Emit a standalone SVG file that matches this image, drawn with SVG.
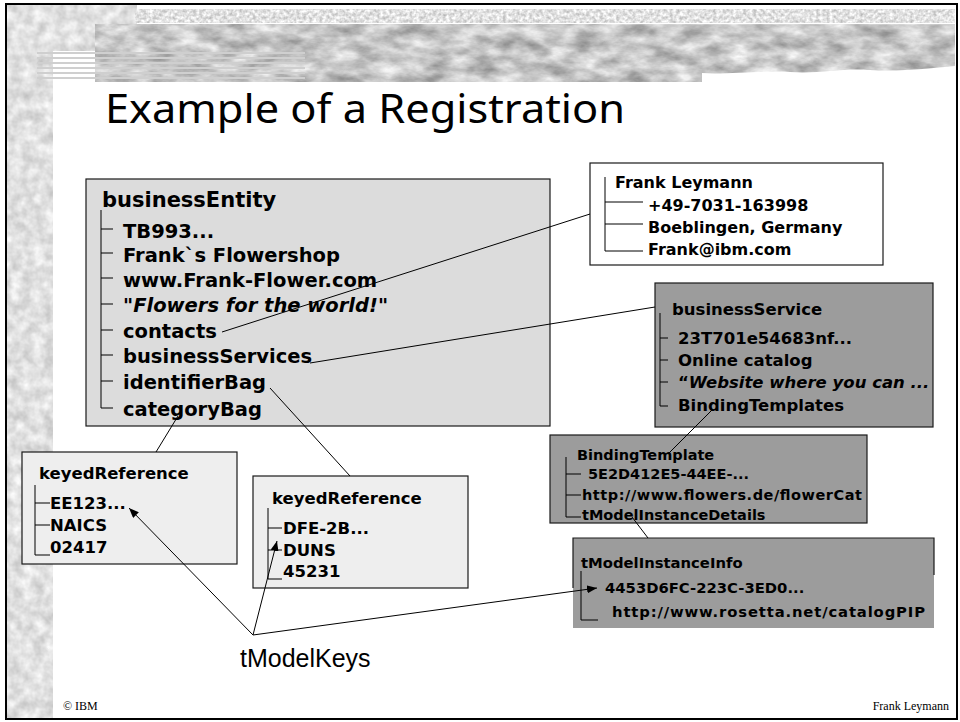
<svg xmlns="http://www.w3.org/2000/svg" width="960" height="722" viewBox="0 0 960 722">
<defs>
<style>
.b{font-family:"DejaVu Sans","Liberation Sans",sans-serif;font-weight:bold;fill:#000}
.it{font-style:italic}
.tree{fill:none;stroke:#000;stroke-width:1}
.con{fill:none;stroke:#000;stroke-width:1}
.box{stroke:#1a1a1a;stroke-width:1.2}
.foot{font-family:"Liberation Serif",serif;font-size:12px;fill:#000}
</style>
<filter id="texLight" x="0" y="0" width="1" height="1" color-interpolation-filters="sRGB">
<feTurbulence type="fractalNoise" baseFrequency="0.09" numOctaves="3" seed="3" result="n"/>
<feColorMatrix in="n" type="matrix" values="0.3 0 0 0 0.73  0.3 0 0 0 0.73  0.3 0 0 0 0.73  0 0 0 0 1" result="g"/>
<feComposite in="g" in2="SourceGraphic" operator="in"/>
</filter>
<filter id="texMid" x="0" y="0" width="1" height="1" color-interpolation-filters="sRGB">
<feTurbulence type="fractalNoise" baseFrequency="0.04 0.08" numOctaves="4" seed="7" result="n"/>
<feColorMatrix in="n" type="matrix" values="0.55 0 0 0 0.5  0.55 0 0 0 0.5  0.55 0 0 0 0.5  0 0 0 0 1" result="g"/>
<feComposite in="g" in2="SourceGraphic" operator="in"/>
</filter>
<filter id="texTop" x="0" y="0" width="1" height="1" color-interpolation-filters="sRGB">
<feTurbulence type="fractalNoise" baseFrequency="0.3" numOctaves="2" seed="11" result="n"/>
<feColorMatrix in="n" type="matrix" values="0.45 0 0 0 0.66  0.45 0 0 0 0.66  0.45 0 0 0 0.66  0 0 0 0 1" result="g"/>
<feComposite in="g" in2="SourceGraphic" operator="in"/>
</filter>
<marker id="arr" markerUnits="userSpaceOnUse" markerWidth="10" markerHeight="8" refX="10" refY="4" orient="auto">
<path d="M0,0 L10,4 L0,8 Z" fill="#000"/>
</marker>
</defs>

<g id="background">
<rect x="0" y="0" width="960" height="722" fill="#fff"/>
<rect x="7" y="5" width="46" height="713" fill="#ddd" filter="url(#texLight)"/>
<rect x="7" y="5" width="130" height="46" fill="#ddd" filter="url(#texLight)"/>
<rect x="135" y="9" width="820" height="14" fill="#ddd" filter="url(#texTop)"/>
<rect x="95" y="24" width="511" height="58" fill="#bbb" filter="url(#texMid)"/>
<path d="M606,24 L955,24 L955,66 C930,68 900,72 870,70 C840,68 820,74 790,72 C760,70 725,75 702,73 L702,82 L606,82 Z" fill="#bbb" filter="url(#texMid)"/>
<rect x="606" y="23" width="349" height="1.2" fill="#fff"/>
<g fill="#cfcfcf">
<rect x="37" y="52" width="268" height="2"/>
<rect x="37" y="57" width="268" height="2"/>
<rect x="37" y="62" width="268" height="2"/>
<rect x="37" y="67" width="268" height="2"/>
<rect x="37" y="72" width="268" height="2"/>
<rect x="37" y="77" width="268" height="2"/>
</g>
<rect x="6" y="4" width="951" height="715" fill="none" stroke="#000" stroke-width="2"/>
</g>

<text id="title" x="105" y="123" font-family="'Noto Sans','DejaVu Sans',sans-serif" font-size="40" textLength="520" lengthAdjust="spacingAndGlyphs" fill="#000">Example of a Registration</text>

<g id="businessEntity">
<rect class="box" x="86" y="179" width="464" height="247" fill="#dcdcdc"/>
<path class="tree" d="M101,210 V408 H113 M101,229 H113 M101,253 H113 M101,278 H113 M101,304 H113 M101,330 H113 M101,355 H113 M101,381 H113"/>
<text class="b" x="102" y="207" font-size="21">businessEntity</text>
<g class="b" font-size="19.5">
<text x="123" y="238">TB993...</text>
<text x="123" y="262">Frank`s Flowershop</text>
<text x="123" y="287">www.Frank-Flower.com</text>
<text x="123" y="312"><tspan class="it">"Flowers for the world!</tspan>"</text>
<text x="123" y="338">contacts</text>
<text x="123" y="363">businessServices</text>
<text x="123" y="389">identifierBag</text>
<text x="123" y="416">categoryBag</text>
</g>
</g>

<g id="contact">
<rect class="box" x="590" y="163" width="293" height="102" fill="#fff"/>
<path class="tree" d="M605,177 V251 H643 M605,202 H643 M605,224 H643"/>
<g class="b" font-size="16">
<text x="615" y="188">Frank Leymann</text>
<text x="648" y="211">+49-7031-163998</text>
<text x="648" y="233">Boeblingen, Germany</text>
<text x="648" y="255">Frank@ibm.com</text>
</g>
</g>

<g id="businessService">
<rect class="box" x="655" y="283" width="278" height="144" fill="#9c9c9c"/>
<path class="tree" d="M660,313 V406 H668 M660,338 H668 M660,360 H668 M660,382 H668"/>
<g class="b" font-size="16.5">
<text x="672" y="315">businessService</text>
<text x="678" y="344">23T701e54683nf...</text>
<text x="678" y="366">Online catalog</text>
<text x="678" y="388">“<tspan class="it">Website where you can ...</tspan></text>
<text x="678" y="411">BindingTemplates</text>
</g>
</g>

<g id="bindingTemplate">
<rect class="box" x="550" y="435" width="317" height="88" fill="#9c9c9c"/>
<path class="tree" d="M566,457 V517 H581 M566,474 H581 M566,495 H581"/>
<g class="b" font-size="14.5">
<text x="577" y="460">BindingTemplate</text>
<text x="588" y="479">5E2D412E5-44EE-...</text>
<text x="582" y="500" textLength="280" lengthAdjust="spacing">http://www.flowers.de/flowerCat</text>
<text x="582" y="520">tModelInstanceDetails</text>
</g>
</g>

<g id="tModelInstanceInfo">
<rect x="573" y="538" width="361" height="90" fill="#9c9c9c"/>
<path class="box" fill="none" d="M573,588 V538 H934 V575"/>
<path class="tree" d="M581,571 V620 H598"/>
<g class="b" font-size="14.8">
<text x="581" y="568">tModelInstanceInfo</text>
<text x="605" y="593">4453D6FC-223C-3ED0...</text>
<text x="612" y="617" textLength="313" lengthAdjust="spacing">http://www.rosetta.net/catalogPIP</text>
</g>
</g>

<g id="keyedReference1">
<rect class="box" x="22" y="452" width="215" height="112" fill="#eeeeee"/>
<path class="tree" d="M35,485 V555 H50 M35,503 H50 M35,525 H50"/>
<g class="b" font-size="16.5">
<text x="39" y="479">keyedReference</text>
<text x="50" y="509">EE123...</text>
<text x="50" y="531">NAICS</text>
<text x="50" y="553">02417</text>
</g>
</g>

<g id="keyedReference2">
<rect class="box" x="253" y="476" width="215" height="112" fill="#eeeeee"/>
<path class="tree" d="M268,508 V579 H282 M268,528 H282 M268,550 H282"/>
<g class="b" font-size="16.5">
<text x="272" y="504">keyedReference</text>
<text x="283" y="534">DFE-2B...</text>
<text x="283" y="556">DUNS</text>
<text x="283" y="577">45231</text>
</g>
</g>

<g id="connectors">
<path class="con" d="M222,332 L590,214"/>
<path class="con" d="M310,363 L655,307"/>
<path class="con" d="M270,388 L350,476"/>
<path class="con" d="M178,416 L156,452"/>
<path class="con" d="M712,410 L669,453"/>
<path class="con" d="M632,517 L648,538"/>
<path class="con" d="M253,635 L129,508" marker-end="url(#arr)"/>
<path class="con" d="M253,635 L277,541" marker-end="url(#arr)"/>
<path class="con" d="M253,635 L597,588" marker-end="url(#arr)"/>
</g>

<g id="tModelKeys">
<text x="240" y="667" font-family="'Liberation Sans',sans-serif" font-size="25" fill="#000">tModelKeys</text>
</g>

<g id="footer">
<text class="foot" x="63" y="710">© IBM</text>
<text class="foot" x="949" y="710" text-anchor="end">Frank Leymann</text>
</g>
</svg>
